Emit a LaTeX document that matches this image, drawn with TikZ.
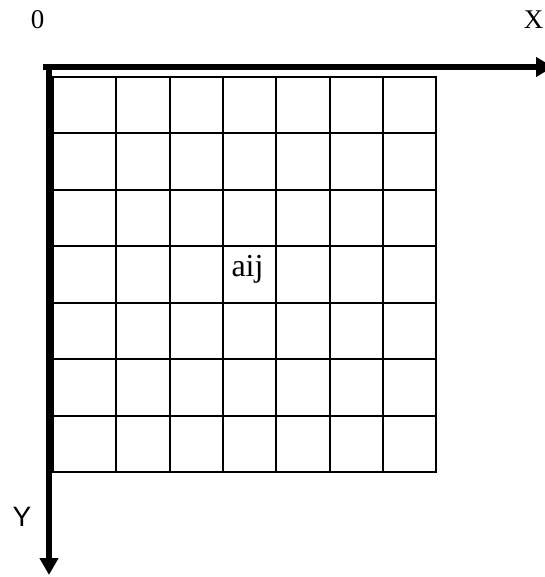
\documentclass[tikz,border=0pt]{standalone}
\usepackage{fontspec}
\setmainfont{Liberation Serif}
\newfontfamily\axsans{Liberation Sans}
\usetikzlibrary{arrows.meta}
\begin{document}
\begin{tikzpicture}[x=1pt,y=-1pt,
  gridline/.style={line width=2pt,line cap=rect},
  axisline/.style={line width=5.6pt},
  lbl/.style={font=\fontsize{27}{27}\selectfont,anchor=base,inner sep=0pt}]
\useasboundingbox (0,0) rectangle (544,577);
% grid
\foreach \x in {53,116,170,223,276,330,383,436}
  \draw[gridline] (\x,77) -- (\x,472);
\foreach \y in {77,133,190,246,303,359,416,472}
  \draw[gridline] (53,\y) -- (436,\y);
% axes
\coordinate (xs) at (43,67);
\coordinate (xe) at (553,67);
\coordinate (ys) at (49,64.2);
\coordinate (ye) at (49,575);
\draw[axisline,-{Triangle[length=17pt,width=19pt]}] (xs) -- (xe);
\draw[axisline,-{Triangle[length=17pt,width=18pt]}] (ys) -- (ye);
% labels
\node[lbl] (zero) at (37.5,29) {0};
\node[lbl] (xl) at (533.5,29) {X};
\node[lbl,font=\fontsize{32}{32}\selectfont] (aij) at (247.5,276) {aij};
\node[font=\axsans\fontsize{28}{28}\selectfont,inner sep=0pt] (yl) at (22,517) {Y};
\end{tikzpicture}
\end{document}
